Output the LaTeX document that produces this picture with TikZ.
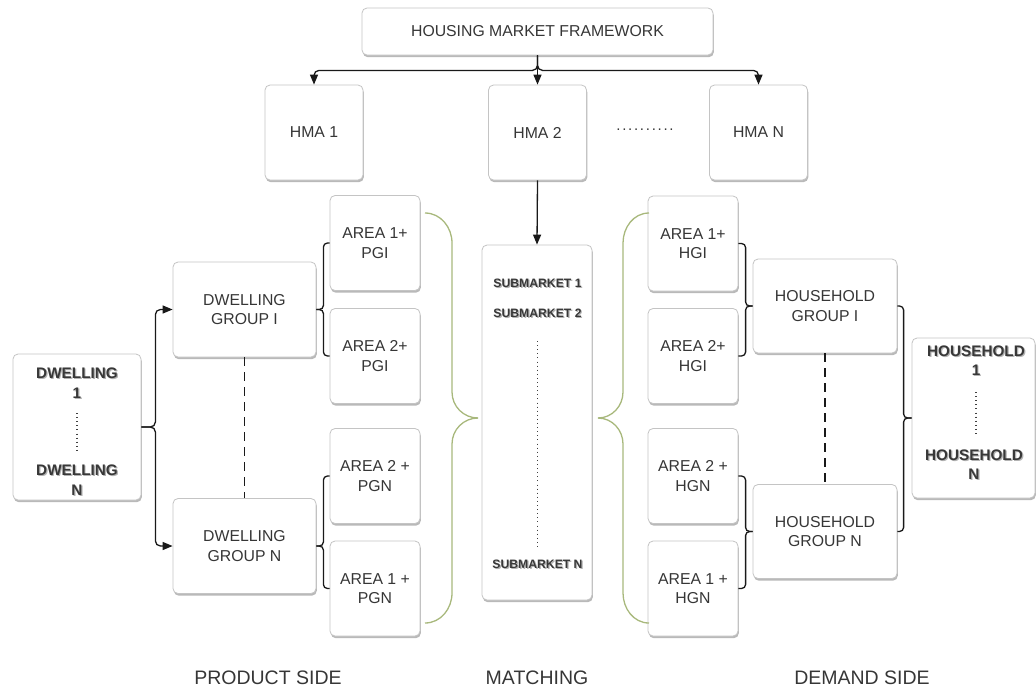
\documentclass[tikz,border=0pt]{standalone}
\usepackage{fontspec}
\setmainfont{Liberation Sans}
\usetikzlibrary{shadows,calc,arrows.meta}

\definecolor{boxline}{HTML}{C4C4C4}
\definecolor{txt}{HTML}{363636}
\definecolor{bracegreen}{HTML}{A8B87C}

% bold label with a soft grey offset copy underneath
\newcommand\embossed[1]{\makebox[0pt]{\raisebox{-1.6pt}[0pt][0pt]{\hspace{2.4pt}\textcolor{black!30}{#1}}}\makebox[0pt]{#1}}

\tikzset{
  box/.style={draw=boxline, line width=0.8pt, fill=white, rounded corners=5pt,
    inner sep=0pt, align=center, text=txt, font=\fontsize{15.8}{19.5}\selectfont,
    drop shadow={shadow xshift=0.8pt, shadow yshift=-2.2pt, fill=black!55, opacity=0.5}},
  areabox/.style={box, minimum width=90pt, minimum height=95pt},
  groupbox/.style={box, minimum width=143pt, minimum height=95pt},
  hmabox/.style={box, minimum width=98pt, minimum height=95pt},
  boldtxt/.style={inner sep=0pt, text=black!78, font=\bfseries\fontsize{15.3}{19}\selectfont},
  subtxt/.style={inner sep=0pt, text=black!78, font=\bfseries\fontsize{12.2}{14}\selectfont},
  sidetxt/.style={inner sep=0pt, text=txt, font=\fontsize{19.5}{23}\selectfont},
  link/.style={draw=black!90, line width=1.3pt},
  arr/.style={link, -{Triangle[length=10pt,width=8pt]}},
  brace/.style={link, rounded corners=4pt},
  gbrace/.style={draw=bracegreen, line width=1.3pt},
  dotline/.style={draw=black!75, line width=1.1pt, dash pattern=on 0.9pt off 3.2pt},
  dashline/.style={draw=black!90, line width=1.3pt, dash pattern=on 9pt off 6pt},
}

\begin{document}
\begin{tikzpicture}[x=1pt,y=-1pt]
\useasboundingbox (0,0) rectangle (1036,689);

% top level
\node[box, minimum width=351pt, minimum height=47pt] (hmf) at (537.5,31.5) {HOUSING MARKET FRAMEWORK};
\node[hmabox] (hma1) at (314,132.5) {HMA 1};
\node[hmabox] (hma2) at (537.5,132.5) {HMA 2};
\node[hmabox] (hman) at (758.5,132.5) {HMA N};
\node[inner sep=0pt, text=txt, font=\fontsize{15}{19}\selectfont] (hdots) at (645,130)
  {\hbox to 59pt{\xleaders\hbox to 5.9pt{\hss.\hss}\hfill}};

% matching column
\node[box, minimum width=110pt, minimum height=355pt] (sub) at (537,422.5) {};
\node[subtxt] (s1) at (537.5,283) {\embossed{SUBMARKET 1}};
\node[subtxt] (s2) at (537.5,313) {\embossed{SUBMARKET 2}};
\node[subtxt] (sn) at (537.5,564) {\embossed{SUBMARKET N}};
\coordinate (sd1) at (537.5,341);
\coordinate (sd2) at (537.5,548);
\draw[dotline] (sd1) -- (sd2);

% product side
\node[box, minimum width=128pt, minimum height=146pt] (dw) at (77,427) {};
\node[boldtxt] (dw1a) at (77,373) {\embossed{DWELLING}};
\node[boldtxt] (dw1b) at (77,393) {\embossed{1}};
\node[boldtxt] (dwna) at (77,470) {\embossed{DWELLING}};
\node[boldtxt] (dwnb) at (77,490) {\embossed{N}};
\coordinate (dwd1) at (77,413);
\coordinate (dwd2) at (77,451);
\draw[dotline] (dwd1) -- (dwd2);

\node[groupbox] (dgI) at (244.5,309.5) {DWELLING\\GROUP I};
\node[groupbox] (dgN) at (244.5,546) {DWELLING\\GROUP N};

\node[areabox] (pa1) at (375,243) {AREA 1+\\PGI};
\node[areabox] (pa2) at (375,356) {AREA 2+\\PGI};
\node[areabox] (pa3) at (375,476) {AREA 2 +\\PGN};
\node[areabox] (pa4) at (375,588.5) {AREA 1 +\\PGN};

% demand side
\node[areabox] (ha1) at (693,243.5) {AREA 1+\\HGI};
\node[areabox] (ha2) at (693,356) {AREA 2+\\HGI};
\node[areabox] (ha3) at (693,476) {AREA 2 +\\HGN};
\node[areabox] (ha4) at (693,588.5) {AREA 1 +\\HGN};

\node[box, minimum width=144pt, minimum height=94pt] (hgI) at (825,306) {HOUSEHOLD\\GROUP I};
\node[box, minimum width=144pt, minimum height=94pt] (hgN) at (825,531.5) {HOUSEHOLD\\GROUP N};

\node[box, minimum width=123pt, minimum height=160pt] (hh) at (973.5,418) {};
\node[boldtxt] (hh1a) at (976,351) {\embossed{HOUSEHOLD}};
\node[boldtxt] (hh1b) at (976,370) {\embossed{1}};
\node[boldtxt] (hhna) at (974,455) {\embossed{HOUSEHOLD}};
\node[boldtxt] (hhnb) at (974,474) {\embossed{N}};
\coordinate (hhd1) at (976,392);
\coordinate (hhd2) at (976,435);
\draw[dotline] (hhd1) -- (hhd2);

% framework to market areas
\coordinate (split) at ($(hmf.south)+(0,15)$);
\draw[arr, rounded corners=5pt] (hmf.south) -- (split) -| (hma1.north);
\draw[arr, rounded corners=5pt] (hmf.south) -- (split) -| (hman.north);
\draw[arr] (hmf.south) -- (hma2.north);
\draw[arr] (hma2.south) -- (sub.north);

% dwellings into dwelling groups
\coordinate (dwx) at ($(dw.east)+(14,0)$);
\draw[arr, rounded corners=5pt] (dw.east) -- (dwx) |- (dgI.west);
\draw[arr, rounded corners=5pt] (dw.east) -- (dwx) |- (dgN.west);

% dwelling groups to product areas
\coordinate (lbI) at ($(dgI.east)+(7,0)$);
\coordinate (lbN) at ($(dgN.east)+(7,0)$);
\draw[brace] (pa1.west) -| (lbI) -- (dgI.east);
\draw[brace] (pa2.west) -| (lbI) -- (dgI.east);
\draw[brace] (pa3.west) -| (lbN) -- (dgN.east);
\draw[brace] (pa4.west) -| (lbN) -- (dgN.east);

% household areas to household groups
\coordinate (rbI) at ($(hgI.west)+(-7,0)$);
\coordinate (rbN) at ($(hgN.west)+(-7,0)$);
\draw[brace] (ha1.east) -| (rbI) -- (hgI.west);
\draw[brace] (ha2.east) -| (rbI) -- (hgI.west);
\draw[brace] (ha3.east) -| (rbN) -- (hgN.west);
\draw[brace] (ha4.east) -| (rbN) -- (hgN.west);

% household groups to households
\coordinate (hhx) at ($(hh.west)+(-8,0)$);
\draw[brace] (hgI.east) -| (hhx) -- (hh.west);
\draw[brace] (hgN.east) -| (hhx) -- (hh.west);

% group continuation
\draw[dashline] (dgI.south) -- (dgN.north);
\draw[dashline] (hgI.south) -- (hgN.north);

% green braces around the matching column
\coordinate (gl1) at (425,213);
\coordinate (gl2) at (425,623);
\coordinate (glt) at (478,418);
\draw[gbrace] (gl1) to[out=0,in=90] (452,243) -- (452,392) to[out=-90,in=180] (glt);
\draw[gbrace] (gl2) to[out=0,in=-90] (452,593) -- (452,444) to[out=90,in=180] (glt);
\coordinate (gr1) at (649,213);
\coordinate (gr2) at (649,623);
\coordinate (grt) at (598,418);
\draw[gbrace] (gr1) to[out=180,in=90] (623,243) -- (623,392) to[out=-90,in=0] (grt);
\draw[gbrace] (gr2) to[out=180,in=-90] (623,593) -- (623,444) to[out=90,in=0] (grt);

% column captions
\node[sidetxt] (cap1) at (268,678) {PRODUCT SIDE};
\node[sidetxt] (cap2) at (537,678) {MATCHING};
\node[sidetxt] (cap3) at (862,678) {DEMAND SIDE};
\end{tikzpicture}
\end{document}
